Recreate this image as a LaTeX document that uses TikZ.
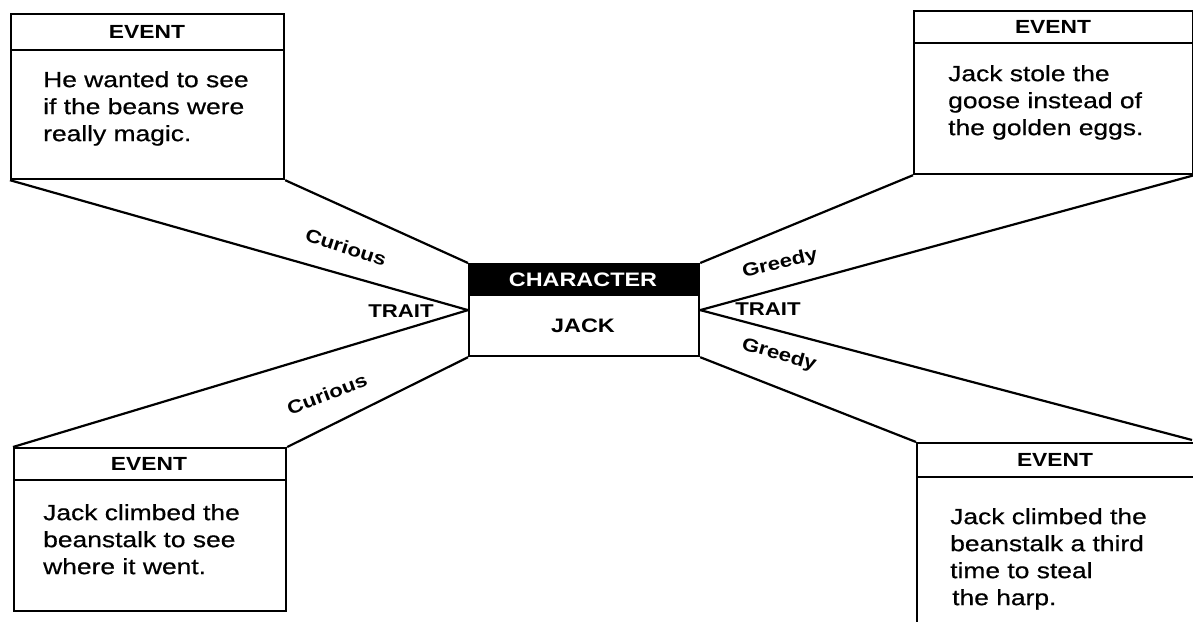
\documentclass[tikz,border=0pt]{standalone}
\usepackage{fontspec}
\setmainfont{Liberation Sans}[FakeStretch=1.2]
\newfontfamily\bodyfont{Liberation Sans}[FakeStretch=1.2,FakeBold=0.6]
\begin{document}
\begin{tikzpicture}[x=1pt,y=-1pt,
  box/.style={draw,line width=2.2pt,rectangle,inner sep=0pt,anchor=north west},
  hdr/.style={font=\fontsize{19}{22}\selectfont\bfseries},
  body/.style={font=\bodyfont\fontsize{22}{27}\selectfont,align=left,anchor=north west,inner sep=0pt},
  lbl/.style={font=\fontsize{18.5}{22}\selectfont\bfseries,inner sep=0pt},
  conn/.style={line width=2.2pt}]
\useasboundingbox (0,0) rectangle (1193,621);
% event boxes
\node[box,minimum width=273pt,minimum height=165pt] (tl) at (10,13) {};
\node[box,minimum width=279pt,minimum height=163pt] (tr) at (913,10) {};
\node[box,minimum width=272pt,minimum height=163pt] (bl) at (13,447) {};
\node[box,minimum width=290pt,minimum height=200pt] (br) at (916,442) {};
% header dividers
\draw[conn] (tl.west |- 0,50) -- (tl.east |- 0,50);
\draw[conn] (tr.west |- 0,43) -- (tr.east |- 0,43);
\draw[conn] (bl.west |- 0,480) -- (bl.east |- 0,480);
\draw[conn] (br.west |- 0,477) -- (br.east |- 0,477);
% headers
\node[hdr] (tlh) at (147,32) {EVENT};
\node[hdr] (trh) at (1053,27) {EVENT};
\node[hdr] (blh) at (149,464) {EVENT};
\node[hdr] (brh) at (1055,460) {EVENT};
% bodies
\node[body] (tlb) at (43,71) {He wanted to see\\if the beans were\\really magic.};
\node[body] (trb) at (948,65) {Jack stole the\\goose instead of\\the golden eggs.};
\node[body] (blb) at (43,504) {Jack climbed the\\beanstalk to see\\where it went.};
\node[body] (brb) at (950,508) {Jack climbed the\\beanstalk a third\\time to steal\\\hspace*{2pt}the harp.};
% character box
\node[box,minimum width=230pt,minimum height=92pt] (char) at (468,263) {};
\fill (char.north west) rectangle (698,296);
\node[font=\fontsize{19.5}{22}\selectfont\bfseries,text=white] (charh) at (583,280) {CHARACTER};
\node[font=\fontsize{19.5}{22}\selectfont\bfseries] (jack) at (583,326) {JACK};
\coordinate (brc) at (1192,440);
% connectors
\draw[conn] (tl.south east) -- (char.north west);
\draw[conn] (tl.south west) -- (char.west);
\draw[conn] (char.west) -- (bl.north west);
\draw[conn] (char.south west) -- (bl.north east);
\draw[conn] (char.north east) -- (tr.south west);
\draw[conn] (char.east) -- (tr.south east);
\draw[conn] (char.east) -- (brc);
\draw[conn] (char.south east) -- (br.north west);
% labels
\node[lbl,rotate=-18] (c1) at (346,247) {Curious};
\node[lbl] (t1) at (401,311) {TRAIT};
\node[lbl,rotate=21] (c2) at (327,394) {Curious};
\node[lbl,rotate=13] (g1) at (780,264) {Greedy};
\node[lbl] (t2) at (768,309) {TRAIT};
\node[lbl,rotate=-16] (g2) at (779,355) {Greedy};
\end{tikzpicture}
\end{document}
